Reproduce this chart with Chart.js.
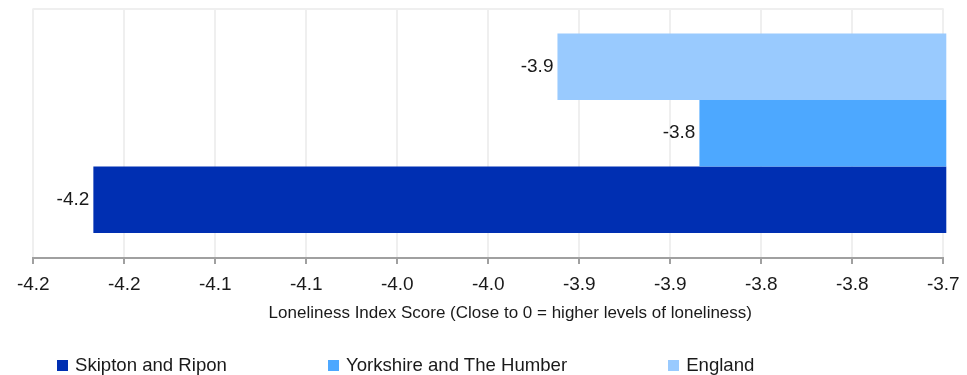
<!DOCTYPE html>
<html>
<head>
<meta charset="utf-8">
<script src="https://cdn.jsdelivr.net/npm/chart.js@4/dist/chart.umd.min.js"></script>
<style>
  html, body { margin: 0; padding: 0; background: #ffffff; }
  #wrap { position: relative; width: 967px; height: 375px; }
  #chart { display: block; }
  #legend {
    position: absolute; left: 57px; top: 354px; height: 22px;
    display: flex; align-items: center;
    font-family: "Liberation Sans", Arial, sans-serif; font-size: 18.6px; color: #1a1a1a;
  }
  .item { display: flex; align-items: center; margin-right: 101px; white-space: nowrap; }
  .box { width: 11px; height: 11px; margin-right: 7px; }
</style>
</head>
<body>
<div id="wrap">
  <canvas id="chart" width="967" height="375"></canvas>
  <div id="legend"></div>
</div>
<script>
// Loneliness index scores by area
const areaNames = ['Skipton and Ripon', 'Yorkshire and The Humber', 'England'];
const areaScores = [-4.167, -3.834, -3.912];
const areaColors = ['#002fb2', '#4da8ff', '#99cafe'];

// Axis ticks every 0.05, labelled to one decimal place
const tickValues = [-4.2, -4.15, -4.1, -4.05, -4.0, -3.95, -3.9, -3.85, -3.8, -3.75, -3.7];
const tickLabels = ['-4.2', '-4.2', '-4.1', '-4.1', '-4.0', '-4.0', '-3.9', '-3.9', '-3.8', '-3.8', '-3.7'];

const axisTitle = 'Loneliness Index Score (Close to 0 = higher levels of loneliness)';
const FONT = '"Liberation Sans", Arial, sans-serif';
const TEXT_COLOR = '#1a1a1a';

// Bars are stacked top-to-bottom in reverse of the legend order
const order = areaNames.map((_, i) => i).reverse();
const datasets = order.map(i => ({
  label: areaNames[i],
  data: [areaScores[i]],
  backgroundColor: areaColors[i],
  borderWidth: 0,
  barPercentage: 1.0,
  categoryPercentage: 0.8,
  clip: { left: 0, top: 0, right: 3, bottom: 0 }
}));

// Value labels to the left of each bar end
const valueLabels = {
  id: 'valueLabels',
  afterDatasetsDraw(chart) {
    const ctx = chart.ctx;
    ctx.save();
    ctx.font = '19px ' + FONT;
    ctx.fillStyle = TEXT_COLOR;
    ctx.textAlign = 'right';
    ctx.textBaseline = 'middle';
    chart.data.datasets.forEach((ds, di) => {
      const meta = chart.getDatasetMeta(di);
      meta.data.forEach((bar, j) => {
        ctx.fillText(ds.data[j].toFixed(1), bar.x - 4, bar.y);
      });
    });
    ctx.restore();
  }
};

// Axis title under the tick labels, set slightly right of the plot centre
const xAxisTitle = {
  id: 'xAxisTitle',
  afterDraw(chart) {
    const { ctx, chartArea } = chart;
    ctx.save();
    ctx.font = '17px ' + FONT;
    ctx.fillStyle = TEXT_COLOR;
    ctx.textAlign = 'center';
    ctx.textBaseline = 'middle';
    ctx.fillText(axisTitle, (chartArea.left + chartArea.right) / 2 + 22, chartArea.bottom + 55);
    ctx.restore();
  }
};

new Chart(document.getElementById('chart'), {
  type: 'bar',
  data: { labels: [''], datasets },
  options: {
    indexAxis: 'y',
    responsive: false,
    animation: false,
    layout: { padding: { left: 0, right: 0, top: 8.5, bottom: 70 } },
    plugins: {
      legend: { display: false },
      tooltip: { enabled: false }
    },
    scales: {
      x: {
        type: 'linear',
        min: -4.2,
        max: -3.7,
        afterBuildTicks(scale) {
          scale.ticks = tickValues.map(v => ({ value: v }));
        },
        afterFit(scale) {
          scale.paddingLeft = 16;
          scale.paddingRight = 23.7;
        },
        ticks: {
          font: { family: FONT, size: 19, lineHeight: 1.0 },
          color: TEXT_COLOR,
          padding: 11,
          maxRotation: 0,
          autoSkip: false,
          callback: (value, index) => tickLabels[index]
        },
        grid: {
          color: '#efefef',
          lineWidth: 2,
          tickColor: '#a0a0a0',
          tickWidth: 2,
          tickLength: 6
        },
        border: { display: true, color: '#a0a0a0', width: 2 }
      },
      y: {
        afterFit(scale) { scale.width = 33.3; },
        ticks: { display: false },
        grid: { color: '#efefef', lineWidth: 2, drawTicks: false },
        border: { display: false }
      }
    }
  },
  plugins: [valueLabels, xAxisTitle]
});

// Legend below the plot
const legend = document.getElementById('legend');
areaNames.forEach((name, i) => {
  const item = document.createElement('div');
  item.className = 'item';
  const box = document.createElement('span');
  box.className = 'box';
  box.style.background = areaColors[i];
  const text = document.createElement('span');
  text.textContent = name;
  item.appendChild(box);
  item.appendChild(text);
  legend.appendChild(item);
});
</script>
</body>
</html>
